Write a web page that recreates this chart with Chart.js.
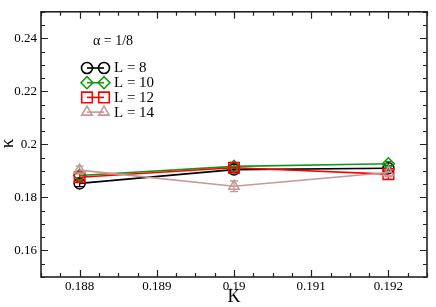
<!DOCTYPE html>
<html>
<head>
<meta charset="utf-8">
<script src="https://cdn.jsdelivr.net/npm/chart.js@4/dist/chart.umd.min.js"></script>
<style>
html,body{margin:0;padding:0;background:#fff;}
#wrap{width:436px;height:307px;position:relative;}
</style>
</head>
<body>
<div id="wrap"><canvas id="c" width="436" height="307"></canvas></div>
<script>
// ---- data ----
const kValues = [0.188, 0.19, 0.192];
const seriesNames = ['L = 8', 'L = 10', 'L = 12', 'L = 14'];
const kappaL8  = [0.1853, 0.1905, 0.1910];
const errL8    = [0.0012, 0.0010, 0.0010];
const kappaL10 = [0.1883, 0.1917, 0.1927];
const errL10   = [0.0008, 0.0010, 0.0008];
const kappaL12 = [0.1876, 0.1912, 0.1888];
const errL12   = [0.0015, 0.0015, 0.0020];
const kappaL14 = [0.1903, 0.1842, 0.1894];
const errL14   = [0.0015, 0.0020, 0.0015];
const xTicks = [0.188, 0.189, 0.19, 0.191, 0.192];
const xTickLabels = ['0.188', '0.189', '0.19', '0.191', '0.192'];
const yTicks = [0.16, 0.18, 0.2, 0.22, 0.24];
const yTickLabels = ['0.16', '0.18', '0.2', '0.22', '0.24'];
const annotationText = 'α = 1/8';
const xTitle = 'K';
const yTitle = 'κ';

const SERIF = "'Liberation Serif', 'Times New Roman', serif";
const styles = [
  {color:'#000000', shape:'circle', r:5.5},
  {color:'#119911', shape:'rectRot', r:6},
  {color:'#ff0000', shape:'rect', r:7.5},
  {color:'#c89696', shape:'triangle', r:6}
];
const allY = [kappaL8, kappaL10, kappaL12, kappaL14];
const allErr = [errL8, errL10, errL12, errL14];

const datasets = allY.map((ys, i) => ({
  label: seriesNames[i],
  data: kValues.map((k, j) => ({x: k, y: ys[j]})),
  errors: allErr[i],
  borderColor: styles[i].color,
  backgroundColor: 'rgba(0,0,0,0)',
  pointBorderColor: styles[i].color,
  pointBackgroundColor: 'rgba(0,0,0,0)',
  pointStyle: styles[i].shape,
  pointRadius: styles[i].r,
  pointBorderWidth: 1.5,
  borderWidth: 1.6,
  tension: 0,
  order: 3 - i
}));

function drawMarker(ctx, shape, x, y, r) {
  Chart.helpers.drawPoint(ctx, {pointStyle: shape, radius: r, borderWidth: 1.5, rotation: 0}, x, y);
}

const decorPlugin = {
  id: 'decor',
  beforeDatasetsDraw(chart) {
    const ctx = chart.ctx;
    const ys = chart.scales.y;
    ctx.save();
    chart.data.datasets.forEach((ds, i) => {
      const meta = chart.getDatasetMeta(i);
      ctx.strokeStyle = ds.borderColor;
      ctx.lineWidth = 1.3;
      meta.data.forEach((pt, j) => {
        const v = ds.data[j].y, e = ds.errors[j];
        const y1 = ys.getPixelForValue(v + e), y2 = ys.getPixelForValue(v - e);
        ctx.beginPath();
        ctx.moveTo(pt.x, y1); ctx.lineTo(pt.x, y2);
        ctx.moveTo(pt.x - 4, y1); ctx.lineTo(pt.x + 4, y1);
        ctx.moveTo(pt.x - 4, y2); ctx.lineTo(pt.x + 4, y2);
        ctx.stroke();
      });
    });
    ctx.restore();
  },
  afterDraw(chart) {
    const ctx = chart.ctx;
    const a = chart.chartArea;
    const xs = chart.scales.x, ys = chart.scales.y;
    ctx.save();
    ctx.strokeStyle = '#222';
    ctx.lineWidth = 1.6;
    ctx.strokeRect(a.left, a.top, a.right - a.left, a.bottom - a.top);
    ctx.lineWidth = 1.2;
    ctx.beginPath();
    const xStep = 0.00025;
    for (let v = xs.min; v <= xs.max + 1e-9; v += xStep) {
      const px = Math.round(xs.getPixelForValue(v)) + 0.5;
      const major = xTicks.some(t => Math.abs(t - v) < 1e-7);
      const len = major ? 7 : 4;
      ctx.moveTo(px, a.bottom); ctx.lineTo(px, a.bottom - len);
      ctx.moveTo(px, a.top); ctx.lineTo(px, a.top + len);
    }
    const yStep = 0.005;
    for (let v = ys.min; v <= ys.max + 1e-9; v += yStep) {
      const py = Math.round(ys.getPixelForValue(v)) + 0.5;
      const major = yTicks.some(t => Math.abs(t - v) < 1e-7);
      const len = major ? 7 : 4;
      ctx.moveTo(a.left, py); ctx.lineTo(a.left + len, py);
      ctx.moveTo(a.right, py); ctx.lineTo(a.right - len, py);
    }
    ctx.stroke();
    ctx.fillStyle = '#000';
    ctx.font = '18px ' + SERIF;
    ctx.textAlign = 'center';
    ctx.textBaseline = 'middle';
    ctx.fillText(xTitle, (a.left + a.right) / 2, 297);
    ctx.save();
    ctx.translate(8, (a.top + a.bottom) / 2 - 1);
    ctx.rotate(-Math.PI / 2);
    ctx.font = '19px ' + SERIF;
    ctx.fillText(yTitle, 0, 0);
    ctx.restore();
    ctx.font = '14px ' + SERIF;
    ctx.textAlign = 'left';
    ctx.fillText(annotationText, 93, 41);
    const rowY0 = 68, rowDy = 14.7;
    chart.data.datasets.forEach((ds, i) => {
      const y = rowY0 + i * rowDy;
      ctx.strokeStyle = ds.borderColor;
      ctx.fillStyle = 'rgba(0,0,0,0)';
      ctx.lineWidth = 1.6;
      ctx.beginPath(); ctx.moveTo(87, y); ctx.lineTo(104, y); ctx.stroke();
      drawMarker(ctx, styles[i].shape, 87, y, styles[i].r);
      drawMarker(ctx, styles[i].shape, 104, y, styles[i].r);
      ctx.fillStyle = '#000';
      ctx.font = '15px ' + SERIF;
      ctx.textBaseline = 'middle';
      ctx.fillText(ds.label, 114, y + 0.5);
    });
    ctx.restore();
  }
};

new Chart(document.getElementById('c'), {
  type: 'line',
  data: {datasets},
  options: {
    responsive: false,
    animation: false,
    events: [],
    layout: {padding: {top: 3, right: 4, left: 0, bottom: 0}},
    plugins: {legend: {display: false}, tooltip: {enabled: false}},
    scales: {
      x: {
        type: 'linear', min: 0.1875, max: 0.1925,
        grid: {display: false, drawTicks: false},
        border: {display: false},
        afterFit(s) { s.height = 30; },
        afterBuildTicks(s) { s.ticks = xTicks.map(v => ({value: v})); },
        ticks: {
          padding: 2, color: '#000', maxRotation: 0, autoSkip: false,
          font: {family: SERIF, size: 13},
          callback: (v) => { const i = xTicks.findIndex(t => Math.abs(t - v) < 1e-9); return i >= 0 ? xTickLabels[i] : ''; }
        }
      },
      y: {
        type: 'linear', min: 0.15, max: 0.25,
        grid: {display: false, drawTicks: false},
        border: {display: false},
        afterFit(s) { s.width = 41; },
        afterBuildTicks(s) { s.ticks = yTicks.map(v => ({value: v})); },
        ticks: {
          padding: 4, color: '#000', autoSkip: false,
          font: {family: SERIF, size: 13},
          callback: (v) => { const i = yTicks.findIndex(t => Math.abs(t - v) < 1e-9); return i >= 0 ? yTickLabels[i] : ''; }
        }
      }
    }
  },
  plugins: [decorPlugin]
});
</script>
</body>
</html>
